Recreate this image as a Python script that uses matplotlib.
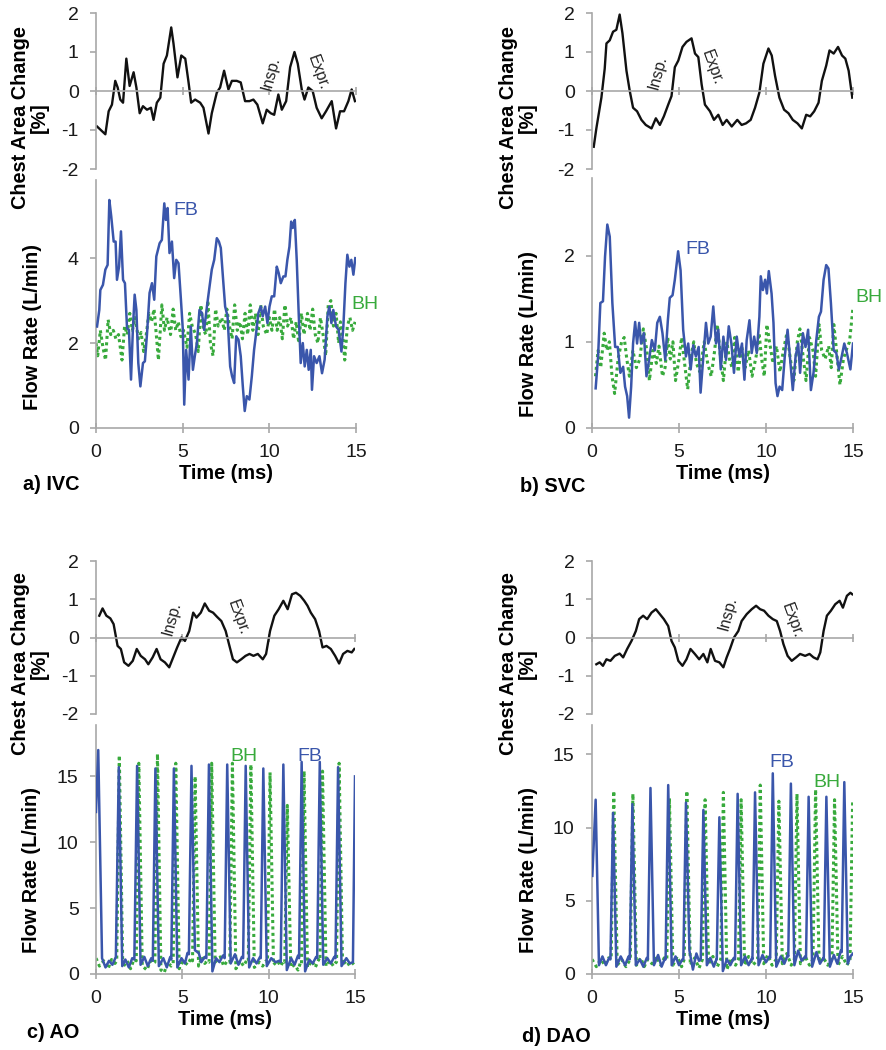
import matplotlib
matplotlib.use("Agg")
import matplotlib.pyplot as plt

plt.rcParams['font.family'] = ['Liberation Sans', 'DejaVu Sans']
plt.rcParams['axes.unicode_minus'] = False

# ---------------- data ----------------
# chest area change [%]
ivc_chest_t = [0.06, 0.54, 0.73, 0.92, 1.11, 1.25, 1.40, 1.56, 1.75, 1.94, 2.17, 2.33, 2.52, 2.71, 2.94, 3.17,
               3.32, 3.51, 3.71, 3.90, 4.09, 4.34, 4.47, 4.70, 4.92, 5.15, 5.34, 5.49, 5.72, 6.01, 6.20, 6.49,
               6.68, 6.97, 7.16, 7.39, 7.64, 7.84, 8.12, 8.35, 8.60, 8.85, 9.08, 9.31, 9.62, 9.85, 10.08, 10.28,
               10.52, 10.72, 10.97, 11.20, 11.45, 11.64, 11.87, 12.03, 12.25, 12.50, 12.73, 13.02, 13.27, 13.60,
               13.85, 14.08, 14.31, 14.56, 14.75, 14.94]
ivc_chest = [-0.91, -1.11, -0.52, -0.35, 0.26, 0.09, -0.22, -0.30, 0.83, 0.13, 0.48, 0.09, -0.57, -0.39, -0.48, -0.43,
             -0.74, -0.30, -0.17, 0.70, 0.91, 1.63, 1.22, 0.35, 0.91, 0.83, 0.22, -0.30, -0.22, -0.30, -0.43, -1.09,
             -0.57, -0.04, 0.09, 0.52, 0.04, 0.26, 0.26, 0.22, -0.26, -0.26, -0.22, -0.35, -0.83, -0.48, -0.57, -0.61,
             -0.09, -0.48, -0.26, 0.61, 1.00, 0.70, 0.04, -0.22, 0.09, 0.00, -0.43, -0.70, -0.52, -0.26,
             -0.96, -0.52, -0.52, -0.26, 0.04, -0.26]

svc_chest_t = [0.10, 0.25, 0.54, 0.73, 0.83, 1.02, 1.21, 1.40, 1.59, 1.75, 1.98, 2.17, 2.36, 2.59, 2.84, 3.09,
               3.42, 3.67, 3.90, 4.13, 4.38, 4.57, 4.76, 4.96, 5.20, 5.43, 5.72, 5.92, 6.11, 6.30, 6.49, 6.78,
               7.01, 7.26, 7.51, 7.74, 8.03, 8.35, 8.60, 8.85, 9.12, 9.37, 9.62, 9.85, 10.14, 10.33, 10.52, 10.77,
               11.04, 11.29, 11.54, 11.81, 12.06, 12.31, 12.54, 12.77, 13.02, 13.21, 13.46, 13.65, 13.89, 14.14,
               14.37, 14.56, 14.75, 14.96]
svc_chest = [-1.43, -0.96, -0.17, 0.57, 1.22, 1.30, 1.52, 1.57, 1.96, 1.48, 0.52, 0.00, -0.43, -0.52, -0.74, -0.87,
             -0.96, -0.70, -0.87, -0.65, -0.35, -0.13, 0.61, 0.78, 1.13, 1.26, 1.35, 0.96, 0.87, 0.17, -0.35, -0.52,
             -0.74, -0.61, -0.87, -0.74, -0.91, -0.74, -0.87, -0.83, -0.74, -0.43, -0.04, 0.70, 1.09, 0.91, 0.39, -0.17,
             -0.48, -0.57, -0.74, -0.83, -0.96, -0.61, -0.65, -0.52, -0.30, 0.26, 0.65, 1.04, 0.96, 1.13,
             0.91, 0.83, 0.52, -0.17]

ao_chest_t = [0.19, 0.38, 0.60, 0.83, 1.02, 1.25, 1.44, 1.63, 1.88, 2.13, 2.36, 2.59, 2.84, 3.03, 3.28, 3.51,
              3.74, 3.99, 4.24, 4.47, 4.70, 4.95, 5.15, 5.40, 5.63, 5.82, 6.07, 6.30, 6.55, 6.78, 7.01, 7.26,
              7.51, 7.70, 7.93, 8.16, 8.41, 8.66, 8.89, 9.12, 9.37, 9.66, 9.85, 10.08, 10.33, 10.58, 10.85, 11.10,
              11.35, 11.58, 11.83, 12.06, 12.25, 12.44, 12.69, 12.92, 13.12, 13.35, 13.60, 13.85, 14.08, 14.31,
              14.56, 14.81, 14.96]
ao_chest = [0.57, 0.76, 0.57, 0.50, 0.35, -0.22, -0.30, -0.65, -0.74, -0.61, -0.30, -0.48, -0.57, -0.70, -0.52, -0.30,
            -0.57, -0.65, -0.78, -0.52, -0.26, 0.00, -0.09, 0.17, 0.65, 0.52, 0.65, 0.89, 0.70, 0.65, 0.54, 0.43,
            0.17, -0.17, -0.57, -0.65, -0.57, -0.48, -0.43, -0.48, -0.43, -0.57, -0.43, 0.17, 0.57, 0.74, 0.96, 0.74,
            1.13, 1.17, 1.09, 0.96, 0.83, 0.65, 0.48, 0.17, -0.26, -0.22, -0.30, -0.48, -0.68, -0.43,
            -0.35, -0.39, -0.30]

dao_chest_t = [0.25, 0.44, 0.63, 0.83, 1.06, 1.31, 1.59, 1.79, 2.02, 2.27, 2.52, 2.71, 2.94, 3.17, 3.42, 3.67,
               3.90, 4.13, 4.38, 4.57, 4.76, 4.96, 5.20, 5.43, 5.66, 5.91, 6.16, 6.40, 6.63, 6.82, 7.07, 7.32,
               7.55, 7.74, 7.93, 8.16, 8.41, 8.60, 8.89, 9.18, 9.43, 9.66, 9.89, 10.14, 10.39, 10.62, 10.81, 11.00,
               11.24, 11.48, 11.73, 11.96, 12.25, 12.50, 12.73, 12.96, 13.12, 13.31, 13.50, 13.73, 13.98, 14.23,
               14.42, 14.65, 14.85, 14.96]
dao_chest = [-0.70, -0.65, -0.74, -0.57, -0.61, -0.48, -0.42, -0.52, -0.30, -0.09, 0.17, 0.48, 0.57, 0.48, 0.65, 0.74,
             0.61, 0.48, 0.30, -0.09, -0.26, -0.61, -0.74, -0.57, -0.30, -0.43, -0.57, -0.43, -0.65, -0.30, -0.61, -0.65,
             -0.78, -0.52, -0.30, 0.00, 0.17, 0.43, 0.61, 0.74, 0.83, 0.74, 0.70, 0.57, 0.48, 0.43, 0.17, -0.17,
             -0.48, -0.61, -0.52, -0.43, -0.48, -0.43, -0.52, -0.57, -0.39, 0.17, 0.57, 0.70, 0.87, 0.96,
             0.78, 1.09, 1.17, 1.13]

# flow rate (L/min), free breathing (FB) and breath hold (BH)
ivc_fb_t = [0.06, 0.19, 0.25, 0.40, 0.54, 0.67, 0.77, 0.88, 1.02, 1.13, 1.21, 1.33, 1.44, 1.56, 1.67, 1.79,
            1.90, 2.02, 2.13, 2.23, 2.33, 2.44, 2.56, 2.71, 2.82, 2.94, 3.09, 3.23, 3.36, 3.48, 3.67, 3.80,
            3.94, 4.03, 4.13, 4.24, 4.38, 4.51, 4.63, 4.76, 4.90, 5.01, 5.09, 5.20, 5.34, 5.47, 5.59, 5.70,
            5.82, 5.97, 6.11, 6.24, 6.40, 6.55, 6.68, 6.82, 6.97, 7.09, 7.20, 7.32, 7.45, 7.59, 7.74, 7.85,
            7.97, 8.09, 8.22, 8.35, 8.47, 8.58, 8.70, 8.85, 8.99, 9.12, 9.24, 9.37, 9.51, 9.62, 9.76, 9.89,
            10.01, 10.14, 10.28, 10.43, 10.54, 10.66, 10.81, 10.93, 11.04, 11.16, 11.26, 11.35, 11.47, 11.58,
            11.70, 11.81, 11.93, 12.04, 12.16, 12.27, 12.39, 12.46, 12.58, 12.73, 12.89, 13.04, 13.19, 13.35,
            13.46, 13.58, 13.69, 13.85, 14.00, 14.16, 14.27, 14.39, 14.50, 14.62, 14.73, 14.85, 14.96]
ivc_fb = [2.39, 2.78, 3.25, 3.37, 3.73, 3.84, 5.37, 4.98, 4.39, 4.39, 3.49, 3.80, 4.63, 3.49, 3.41, 2.35,
          2.31, 1.14, 2.35, 3.14, 2.78, 1.53, 0.98, 1.53, 1.57, 2.20, 3.18, 3.41, 3.02, 4.04, 4.35, 4.43,
          5.29, 4.90, 5.18, 4.12, 4.39, 3.53, 3.96, 3.88, 3.02, 2.31, 0.55, 1.84, 1.14, 2.39, 1.37, 1.69,
          2.00, 2.78, 2.71, 2.31, 2.86, 3.33, 3.73, 3.96, 4.47, 4.39, 4.24, 3.57, 2.86, 2.63, 1.45, 1.22,
          1.06, 2.16, 2.08, 1.69, 0.98, 0.40, 0.75, 0.67, 1.22, 1.84, 2.24, 2.71, 2.86, 2.63, 2.86, 2.47,
          2.86, 3.10, 3.10, 3.80, 3.65, 3.41, 3.57, 3.57, 3.96, 4.27, 4.86, 4.71, 4.90, 3.96,
          2.63, 1.53, 2.00, 1.45, 1.84, 1.37, 1.84, 0.90, 1.69, 1.53, 1.69, 1.29, 1.61, 2.63,
          2.86, 2.47, 2.78, 2.39, 2.31, 1.80, 2.39, 3.41, 4.08, 3.80, 3.96, 3.61, 4.00]

ivc_bh_t = [0.00, 0.10, 0.25, 0.40, 0.55, 0.70, 0.85, 1.00, 1.15, 1.30, 1.50, 1.65, 1.80, 1.95, 2.10, 2.25,
            2.45, 2.60, 2.75, 2.90, 3.05, 3.20, 3.35, 3.50, 3.60, 3.80, 3.95, 4.10, 4.30, 4.45, 4.60, 4.75,
            4.90, 5.05, 5.25, 5.40, 5.55, 5.75, 5.90, 6.05, 6.20, 6.35, 6.45, 6.60, 6.75, 6.90, 7.05, 7.25,
            7.40, 7.55, 7.70, 7.85, 8.00, 8.15, 8.30, 8.45, 8.60, 8.75, 8.90, 9.05, 9.20, 9.35, 9.50, 9.65,
            9.85, 10.00, 10.15, 10.30, 10.45, 10.60, 10.75, 10.90, 11.05, 11.25, 11.40, 11.55, 11.70, 11.85,
            12.00, 12.20, 12.35, 12.50, 12.65, 12.80, 12.95, 13.10, 13.25, 13.40, 13.55, 13.70, 13.85, 14.00,
            14.10, 14.25, 14.35, 14.50, 14.65, 14.80, 14.95]
ivc_bh = [2.0, 1.7, 2.3, 1.9, 1.6, 2.55, 2.2, 2.3, 2.1, 2.2, 1.6, 2.4, 2.2, 2.7, 2.3, 2.6,
          2.1, 2.25, 1.8, 2.2, 2.7, 2.5, 2.8, 2.1, 1.6, 2.9, 2.3, 2.6, 2.2, 2.8, 2.3, 2.5,
          2.15, 2.3, 1.9, 2.7, 2.4, 2.2, 1.8, 2.9, 2.3, 2.2, 3.0, 2.0, 1.7, 2.8, 2.4, 2.6,
          2.3, 2.8, 2.4, 2.1, 2.9, 2.3, 2.5, 2.1, 2.7, 2.2, 2.9, 2.3, 2.7, 2.2, 2.9, 2.4,
          2.2, 2.6, 2.3, 2.8, 2.3, 2.6, 2.1, 2.9, 2.4, 2.6, 2.1, 2.5, 2.0, 2.7,
          2.2, 2.7, 2.3, 2.8, 2.2, 2.0, 2.6, 2.2, 1.7, 2.9, 3.0, 2.4, 2.7, 2.0,
          2.5, 2.1, 1.6, 2.4, 2.6, 2.3, 2.5]

svc_fb_t = [0.21, 0.35, 0.48, 0.63, 0.75, 0.88, 1.02, 1.17, 1.33, 1.48, 1.63, 1.79, 1.90, 2.02, 2.13, 2.25,
            2.36, 2.48, 2.59, 2.71, 2.82, 2.98, 3.13, 3.28, 3.44, 3.61, 3.75, 3.90, 4.05, 4.21, 4.36, 4.47,
            4.63, 4.76, 4.95, 5.09, 5.24, 5.40, 5.53, 5.67, 5.82, 5.97, 6.13, 6.24, 6.40, 6.55, 6.68, 6.82,
            6.97, 7.13, 7.26, 7.40, 7.55, 7.70, 7.86, 8.01, 8.16, 8.32, 8.47, 8.62, 8.76, 8.89, 9.05, 9.18,
            9.32, 9.47, 9.62, 9.70, 9.82, 9.95, 10.05, 10.16, 10.32, 10.43, 10.55, 10.66, 10.78, 10.93, 11.08,
            11.24, 11.39, 11.54, 11.70, 11.85, 11.96, 12.12, 12.27, 12.42, 12.58, 12.73, 12.89, 13.04, 13.16,
            13.31, 13.46, 13.59, 13.73, 13.89, 14.04, 14.19, 14.35, 14.50, 14.65, 14.85, 15.00]
svc_fb = [0.46, 0.83, 1.45, 1.47, 1.99, 2.36, 2.22, 1.45, 0.94, 0.94, 0.64, 0.71, 0.48, 0.37, 0.12, 0.48,
          0.98, 1.23, 0.98, 1.22, 0.98, 1.10, 0.60, 0.79, 1.02, 0.90, 1.22, 1.29, 1.10, 0.79, 1.25, 1.51,
          1.54, 1.72, 2.05, 1.83, 1.14, 0.83, 0.98, 0.68, 0.96, 0.83, 0.94, 0.41, 0.83, 1.22, 0.98, 1.06,
          1.41, 0.98, 1.14, 0.68, 1.06, 0.79, 1.18, 0.98, 0.64, 1.06, 0.83, 0.98, 0.56, 1.02, 1.25, 0.87,
          1.06, 0.87, 1.29, 1.76, 1.60, 1.72, 1.56, 1.82, 1.56, 1.22, 0.52, 0.37, 0.48, 0.44, 0.83,
          1.14, 0.79, 0.44, 0.83, 0.98, 0.64, 1.10, 0.94, 1.14, 0.44, 0.64, 1.02, 1.29, 1.35,
          1.72, 1.89, 1.85, 1.45, 0.90, 0.87, 0.68, 0.83, 0.98, 0.87, 0.68, 0.98]

svc_bh_t = [0.20, 0.35, 0.50, 0.70, 0.85, 1.00, 1.15, 1.30, 1.50, 1.70, 1.85, 2.00, 2.15, 2.35, 2.55, 2.75,
            2.95, 3.15, 3.30, 3.50, 3.70, 3.85, 4.05, 4.20, 4.35, 4.50, 4.65, 4.80, 5.00, 5.15, 5.35, 5.50,
            5.70, 5.85, 6.00, 6.20, 6.45, 6.65, 6.85, 7.05, 7.20, 7.40, 7.55, 7.75, 7.90, 8.05, 8.20, 8.40,
            8.60, 8.80, 9.00, 9.20, 9.45, 9.60, 9.75, 9.90, 10.05, 10.20, 10.40, 10.60, 10.80, 11.00, 11.20,
            11.40, 11.60, 11.80, 11.95, 12.15, 12.30, 12.50, 12.70, 12.85, 13.05, 13.20, 13.40, 13.60, 13.75,
            13.90, 14.10, 14.25, 14.45, 14.60, 14.80, 14.90, 15.00]
svc_bh = [0.60, 0.90, 0.70, 1.10, 0.90, 1.00, 0.60, 0.40, 0.80, 1.00, 1.05, 0.80, 0.60, 0.90, 0.70, 0.80,
          1.15, 0.90, 0.55, 0.90, 0.75, 0.95, 0.60, 0.70, 1.05, 0.80, 1.00, 0.55, 0.80, 1.05, 0.70, 0.45,
          0.85, 1.00, 0.75, 0.65, 1.00, 0.75, 0.60, 0.90, 1.20, 0.80, 0.55, 1.00, 0.80, 0.70, 1.05, 0.65,
          0.95, 0.70, 0.90, 0.60, 0.85, 1.10, 0.80, 0.60, 1.20, 1.00, 0.75, 0.95, 0.65, 0.90, 1.10,
          0.80, 0.55, 1.00, 1.15, 0.80, 0.55, 1.05, 0.90, 0.60, 1.20, 0.90, 0.80, 0.95, 0.70,
          1.20, 0.80, 0.50, 0.80, 0.90, 1.00, 1.20, 1.40]

ao_fb_t = [0.00, 0.13, 0.35, 0.55, 0.75, 0.95, 1.15, 1.32, 1.52, 1.70, 1.90, 2.10, 2.22, 2.38, 2.58, 2.80,
           3.00, 3.20, 3.29, 3.44, 3.64, 3.90, 4.10, 4.30, 4.36, 4.51, 4.71, 4.95, 5.15, 5.30, 5.38, 5.53,
           5.73, 5.95, 6.10, 6.30, 6.39, 6.54, 6.74, 6.95, 7.15, 7.35, 7.45, 7.60, 7.80, 8.05, 8.25, 8.45,
           8.52, 8.67, 8.87, 9.10, 9.30, 9.50, 9.54, 9.69, 9.89, 10.15, 10.40, 10.60, 10.70, 10.85, 11.05,
           11.30, 11.50, 11.70, 11.76, 11.91, 12.11, 12.35, 12.55, 12.75, 12.81, 12.96, 13.16, 13.40, 13.60,
           13.80, 13.87, 14.02, 14.22, 14.50, 14.70, 14.88, 15.00]
ao_fb = [12.3, 17.0, 1.2, 0.5, 1.0, 0.7, 1.3, 15.7, 0.6, 1.1, 0.5, 1.2, 1.1, 15.8, 0.7, 1.3,
         0.6, 1.2, 1.0, 15.6, 0.6, 1.2, 0.5, 1.3, 1.1, 15.6, 0.5, 1.2, 0.8, 1.6, 1.5, 15.8,
         1.8, 1.6, 0.9, 1.3, 1.2, 15.9, 0.2, 1.2, 0.9, 1.4, 1.2, 15.9, 0.8, 1.5, 0.7, 1.3,
         1.2, 15.8, 0.5, 1.2, 0.8, 1.3, 1.2, 15.6, 0.6, 1.2, 0.9, 1.0, 0.9, 15.9, 0.3,
         1.2, 0.7, 1.4, 1.2, 16.1, 0.2, 1.1, 0.8, 1.3, 1.2, 16.1, 0.7, 1.2, 0.8,
         1.3, 1.2, 15.7, 0.6, 1.2, 0.8, 0.9, 15.0]

ao_bh_t = [0.00, 0.20, 0.45, 0.70, 0.90, 1.10, 1.20, 1.35, 1.55, 1.80, 2.00, 2.20, 2.33, 2.48, 2.68, 2.95,
           3.15, 3.30, 3.41, 3.56, 3.76, 3.95, 4.15, 4.35, 4.47, 4.62, 4.82, 5.05, 5.30, 5.50, 5.59, 5.74,
           5.94, 6.15, 6.30, 6.45, 6.55, 6.70, 6.90, 7.20, 7.40, 7.60, 7.75, 7.90, 8.10, 8.35, 8.55, 8.75,
           8.82, 8.97, 9.17, 9.45, 9.65, 9.85, 9.93, 10.08, 10.28, 10.50, 10.70, 10.85, 10.93, 11.08, 11.28,
           11.50, 11.70, 11.85, 11.90, 12.05, 12.25, 12.50, 12.70, 12.90, 12.97, 13.12, 13.32, 13.55, 13.75,
           13.90, 13.93, 14.08, 14.28, 14.50, 14.70, 14.95]
ao_bh = [1.2, 0.6, 1.0, 0.4, 1.1, 0.8, 1.0, 16.6, 0.5, 1.0, 0.4, 1.1, 1.0, 16.0, 0.6, 0.3,
         1.0, 0.8, 0.9, 16.7, 0.3, 0.1, 0.9, 0.6, 0.8, 16.0, 0.4, 1.0, 0.7, 1.2, 1.0, 15.0,
         0.6, 1.3, 0.8, 1.0, 0.9, 16.0, 0.9, 1.3, 0.6, 1.0, 0.9, 16.0, 0.4, 1.0, 0.6, 1.1,
         1.0, 15.9, 0.5, 0.9, 0.6, 1.0, 0.9, 15.3, 0.7, 1.0, 0.6, 1.0, 0.9, 12.8, 0.5,
         0.7, 0.3, 0.9, 0.8, 15.4, 0.5, 1.0, 0.5, 1.1, 1.0, 15.4, 0.6, 1.0, 0.6,
         0.9, 0.9, 16.0, 0.7, 1.0, 0.6, 0.9]

dao_fb_t = [0.02, 0.21, 0.40, 0.60, 0.80, 0.98, 1.06, 1.21, 1.40, 1.65, 1.90, 2.10, 2.17, 2.32, 2.52, 2.75,
            2.95, 3.15, 3.21, 3.36, 3.56, 3.80, 4.00, 4.20, 4.23, 4.38, 4.58, 4.80, 5.00, 5.20, 5.25, 5.40,
            5.60, 5.80, 6.00, 6.15, 6.25, 6.40, 6.60, 6.80, 7.00, 7.15, 7.17, 7.32, 7.52, 7.75, 7.95, 8.15,
            8.22, 8.37, 8.57, 8.80, 9.00, 9.20, 9.22, 9.37, 9.57, 9.80, 10.00, 10.20, 10.24, 10.39, 10.59,
            10.85, 11.05, 11.25, 11.28, 11.43, 11.63, 11.85, 12.05, 12.25, 12.30, 12.45, 12.65, 12.90, 13.10,
            13.30, 13.32, 13.47, 13.67, 13.90, 14.10, 14.30, 14.35, 14.50, 14.70, 14.85, 15.00]
dao_fb = [6.7, 11.9, 0.6, 1.2, 0.6, 1.1, 1.0, 11.0, 0.5, 1.2, 0.6, 1.2, 1.0, 11.6, 0.6, 1.0,
          0.5, 1.1, 1.0, 12.7, 0.6, 1.3, 0.5, 1.1, 1.0, 12.9, 0.6, 1.2, 0.6, 1.0, 1.0, 11.7,
          1.6, 0.3, 1.4, 0.9, 1.0, 11.2, 0.6, 1.1, 0.5, 1.0, 1.0, 10.7, 0.2, 1.0, 0.6, 1.1,
          1.0, 12.3, 0.6, 1.2, 0.6, 1.1, 1.0, 12.4, 0.6, 1.3, 0.8, 1.2, 1.1, 13.7, 0.5,
          1.2, 0.7, 1.3, 1.2, 13.0, 0.6, 1.6, 0.9, 1.2, 1.1, 12.1, 0.5, 1.5, 0.7,
          1.1, 1.0, 12.1, 0.5, 1.3, 0.7, 1.6, 1.5, 13.1, 0.7, 1.2, 1.4]

dao_bh_t = [0.00, 0.25, 0.50, 0.75, 0.95, 1.10, 1.25, 1.45, 1.70, 1.95, 2.20, 2.35, 2.55, 2.80, 3.00, 3.20,
            3.45, 3.70, 3.95, 4.15, 4.30, 4.45, 4.65, 4.90, 5.15, 5.30, 5.45, 5.65, 5.90, 6.15, 6.35, 6.50,
            6.70, 6.95, 7.20, 7.40, 7.55, 7.75, 8.00, 8.25, 8.42, 8.57, 8.77, 9.00, 9.25, 9.52, 9.67, 9.87,
            10.10, 10.35, 10.59, 10.74, 10.94, 11.20, 11.45, 11.63, 11.78, 11.98, 12.25, 12.50, 12.70, 12.85,
            13.05, 13.30, 13.55, 13.79, 13.94, 14.14, 14.40, 14.65, 14.83, 14.98]
dao_bh = [1.0, 0.5, 1.0, 0.6, 1.1, 1.0, 12.5, 0.6, 1.0, 0.5, 1.0, 12.3, 0.6, 1.1, 0.5, 1.0,
          0.7, 1.2, 0.6, 1.1, 1.0, 12.0, 0.6, 1.2, 0.5, 1.0, 12.5, 0.6, 1.1, 0.4, 1.0, 11.9,
          0.7, 1.2, 0.5, 1.0, 12.4, 0.3, 1.1, 0.6, 1.0, 11.9, 0.6, 1.2, 0.6, 1.0, 12.9, 0.7,
          1.3, 0.6, 1.0, 11.8, 0.7, 1.4, 0.6, 1.0, 12.3, 0.7, 1.2, 0.6, 1.0, 12.6,
          0.8, 1.1, 0.6, 1.0, 11.9, 0.6, 1.2, 0.6, 1.0, 11.9]

panel_titles = ['a) IVC', 'b) SVC', 'c) AO', 'd) DAO']

# ---------------- styling ----------------
W, H = 886, 1050
BLUE = '#3a56ab'
GREEN = '#38aa3c'
GREY = '#a8a8a8'
LBL = 14.3   # bold label size

fig = plt.figure(figsize=(W / 100, H / 100), dpi=100)


def rect(x0, x1, ytop, ybot):
    return [x0 / W, 1 - ybot / H, (x1 - x0) / W, (ybot - ytop) / H]


def style(ax):
    for s in ['top', 'right']:
        ax.spines[s].set_visible(False)
    for s in ['left', 'bottom']:
        ax.spines[s].set_color(GREY)
        ax.spines[s].set_linewidth(1.2)
    ax.tick_params(colors=GREY, labelcolor='#1a1a1a', labelsize=14, width=1.2)
    ax.tick_params(axis='y', length=4.5, pad=8)
    ax.tick_params(axis='x', length=7, direction='inout', pad=8)
    ax.set_xlim(0, 15)
    ax.set_xticks([0, 5, 10, 15])
    ax.patch.set_alpha(0)


def chest_axes(box, t, y, insp, expr):
    ax = fig.add_axes(rect(*box))
    style(ax)
    ax.plot(t, y, color='#111111', lw=1.7)
    ax.set_ylim(-2, 2)
    ax.set_yticks([-2, -1, 0, 1, 2])
    ax.spines['bottom'].set_position(('data', 0))
    ax.tick_params(axis='x', labelbottom=False, length=6)
    ax.text(insp[0], insp[1], 'Insp.', rotation=75, fontsize=11.5, color='#222222',
            ha='center', va='center')
    ax.text(expr[0], expr[1], 'Expr.', rotation=-70, fontsize=11.5, color='#222222',
            ha='center', va='center')
    return ax


def flow_axes(box, ymax, yticks, fb_t, fb, bh_t, bh, fb_pos, bh_pos):
    ax = fig.add_axes(rect(*box))
    style(ax)
    ax.plot(fb_t, fb, color=BLUE, lw=1.8, zorder=3)
    ax.plot(bh_t, bh, color=GREEN, lw=2.2, ls=(0, (1, 1.1)), zorder=2)
    ax.set_ylim(0, ymax)
    ax.set_yticks(yticks)
    ax.text(fb_pos[0], fb_pos[1], 'FB', color=BLUE, fontsize=14, ha='center', va='center',
            clip_on=False)
    ax.text(bh_pos[0], bh_pos[1], 'BH', color=GREEN, fontsize=14, ha='center', va='center',
            clip_on=False)
    ax.set_xlabel('Time (ms)', fontsize=LBL, fontweight='bold', labelpad=2)
    return ax


def side_label(x, y, s):
    fig.text(x / W, 1 - y / H, s, rotation=90, ha='center', va='center',
             fontsize=LBL, fontweight='bold', multialignment='center', linespacing=1.0)


# ----- a) IVC -----
chest_axes((96, 356, 13, 169), ivc_chest_t, ivc_chest, (10.1, 0.46), (12.8, 0.46))
flow_axes((96, 356, 180, 428), 5.84, [0, 2, 4], ivc_fb_t, ivc_fb, ivc_bh_t, ivc_bh,
          (5.2, 5.13), (15.5, 2.9))
side_label(30, 118, 'Chest Area Change\n[%]')
side_label(33, 327, 'Flow Rate (L/min)')

# ----- b) SVC -----
chest_axes((592, 853, 13, 169), svc_chest_t, svc_chest, (3.8, 0.47), (6.9, 0.6))
flow_axes((592, 853, 178, 428), 2.9, [0, 1, 2], svc_fb_t, svc_fb, svc_bh_t, svc_bh,
          (6.1, 2.07), (15.9, 1.51))
side_label(518, 118, 'Chest Area Change\n[%]')
side_label(528, 334, 'Flow Rate (L/min)')

# ----- c) AO -----
chest_axes((96, 355, 561, 714), ao_chest_t, ao_chest, (4.4, 0.5), (8.2, 0.52))
flow_axes((96, 355, 725, 974), 18.9, [0, 5, 10, 15], ao_fb_t, ao_fb, ao_bh_t, ao_bh,
          (12.4, 16.5), (8.55, 16.5))
side_label(30, 664, 'Chest Area Change\n[%]')
side_label(32, 870, 'Flow Rate (L/min)')

# ----- d) DAO -----
chest_axes((592, 853, 561, 714), dao_chest_t, dao_chest, (7.8, 0.63), (11.5, 0.45))
flow_axes((592, 853, 725, 974), 17.0, [0, 5, 10, 15], dao_fb_t, dao_fb, dao_bh_t, dao_bh,
          (10.9, 14.45), (13.5, 13.1))
side_label(518, 664, 'Chest Area Change\n[%]')
side_label(528, 870, 'Flow Rate (L/min)')

# panel letters
for (x, y), s in zip([(51, 484), (553, 486), (53, 1033), (556, 1036)], panel_titles):
    fig.text(x / W, 1 - y / H, s, ha='center', va='center', fontsize=LBL, fontweight='bold')

fig.savefig('out.png', dpi=100)
